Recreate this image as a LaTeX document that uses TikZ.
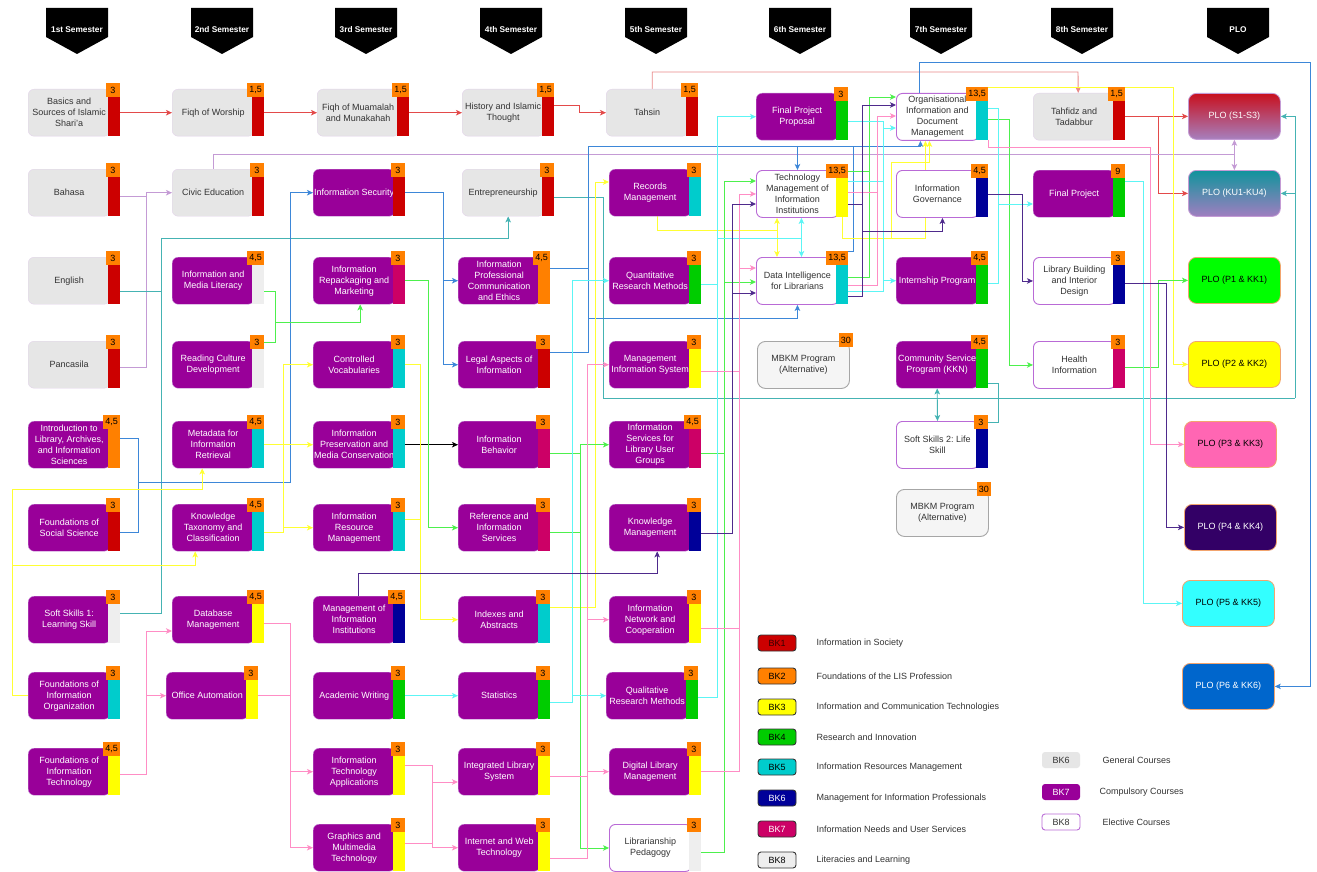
\documentclass[tikz,border=0pt]{standalone}
\usepackage{fontspec}
\setmainfont{Liberation Sans}
\usetikzlibrary{arrows.meta}
\frenchspacing
\pgfdeclarelayer{back}
\pgfdeclarelayer{bg}
\pgfsetlayers{back,bg,main}
\definecolor{genfill}{HTML}{E6E6E6}
\definecolor{genborder}{HTML}{E3D3EA}
\definecolor{compfill}{HTML}{990099}
\definecolor{compborder}{HTML}{C48AD6}
\definecolor{elecborder}{HTML}{B96AD6}
\definecolor{cRed}{HTML}{CC0000}
\definecolor{cOrange}{HTML}{FF8000}
\definecolor{cYellow}{HTML}{FFFF00}
\definecolor{cGreen}{HTML}{00CC00}
\definecolor{cCyan}{HTML}{00CCCC}
\definecolor{cNavy}{HTML}{000099}
\definecolor{cMag}{HTML}{CC0066}
\definecolor{cGray}{HTML}{EEEEEE}
\definecolor{credit}{HTML}{FF8000}
\definecolor{txt}{HTML}{333333}
\definecolor{bkOne}{HTML}{330000}
\definecolor{lRed}{HTML}{E34A4A}
\definecolor{lRedP}{HTML}{EA8A8A}
\definecolor{lLav}{HTML}{C49BD5}
\definecolor{lTeal}{HTML}{45B3B3}
\definecolor{lBlue}{HTML}{3D87D8}
\definecolor{lYel}{HTML}{FFFF33}
\definecolor{lGreen}{HTML}{4DF04D}
\definecolor{lCyan}{HTML}{5CF5F5}
\definecolor{lPink}{HTML}{FF8DC5}
\definecolor{lPurp}{HTML}{4E2A8C}
\definecolor{ploborder}{HTML}{F2A46E}
\definecolor{mbkmfill}{HTML}{F5F5F5}
\definecolor{mbkmborder}{HTML}{A6A6A6}
\definecolor{ploOneTop}{HTML}{C8101E}
\definecolor{ploOneBot}{HTML}{A680BE}
\definecolor{ploTwoTop}{HTML}{10949C}
\definecolor{ploTwoBot}{HTML}{A07EC0}
\definecolor{ploGreen}{HTML}{00FF00}
\definecolor{ploYellow}{HTML}{FFFF00}
\definecolor{ploPink}{HTML}{FF66B3}
\definecolor{ploPurple}{HTML}{330066}
\definecolor{ploCyan}{HTML}{33FFFF}
\definecolor{ploBlue}{HTML}{0066CC}
\tikzset{
  box/.style={rounded corners=6pt, minimum width=82pt, minimum height=47pt, inner xsep=1pt, inner ysep=1pt, align=center, font=\fontsize{9}{11}\selectfont},
  gen/.style={box, fill=genfill, draw=genborder, text=txt},
  comp/.style={box, fill=compfill, draw=compborder, text=white},
  elec/.style={box, fill=white, draw=elecborder, line width=0.9pt, text=txt},
  bar/.style={minimum width=12pt, minimum height=39pt, inner sep=0pt},
  cred/.style={fill=credit, minimum width=14pt, minimum height=14pt, inner xsep=2pt, inner ysep=1pt, font=\fontsize{9}{10}\selectfont, text=black},
  mbkm/.style={anchor=north west, rounded corners=8pt, fill=mbkmfill, draw=mbkmborder, line width=0.9pt, minimum width=92pt, minimum height=47pt, align=center, text=txt, font=\fontsize{9}{11}\selectfont},
  plo/.style={anchor=north west, rounded corners=8pt, minimum width=92pt, minimum height=46pt, draw=ploborder, line width=0.8pt, align=center, font=\fontsize{9}{11}\selectfont},
  hdr/.style={text=white, font=\bfseries\fontsize{8.3}{9}\selectfont},
  lgbox/.style={minimum width=38pt, minimum height=16pt, inner sep=0pt, rounded corners=3pt, draw=txt, line width=0.9pt, font=\fontsize{9}{10}\selectfont},
  lgtext/.style={anchor=west, text=txt, font=\fontsize{9}{10}\selectfont},
  conn/.style={line width=0.9pt},
  lR/.style={conn, draw=lRed},
  lRp/.style={conn, draw=lRedP},
  lav/.style={conn, draw=lLav},
  tl/.style={conn, draw=lTeal},
  bl/.style={conn, draw=lBlue},
  bk/.style={conn, draw=black},
  yl/.style={conn, draw=lYel},
  gr/.style={conn, draw=lGreen},
  cy/.style={conn, draw=lCyan},
  pk/.style={conn, draw=lPink},
  pu/.style={conn, draw=lPurp},
  >={Stealth[length=6pt,width=5.5pt,inset=1.5pt]}
}
\newcommand\mkcourse[7]{%
  \node[#4, anchor=north west] (#1) at (#2,#3) {#7};
  \node[bar, fill=#5, anchor=north west] (#1b) at ({#2+80},{#3+8}) {};
  \node[cred, anchor=north east] (#1c) at ({#2+92},{#3-6}) {#6};
}
\begin{document}
\begin{tikzpicture}[x=1pt,y=-1pt]
\useasboundingbox (0,0) rectangle (1317,872);
\begin{pgfonlayer}{back}
\fill[white] (0,0) rectangle (1317,872);
\end{pgfonlayer}

% headers
\foreach \cx/\t [count=\i] in {77/1st Semester,222/2nd Semester,366/3rd Semester,511/4th Semester,656/5th Semester,800/6th Semester,941/7th Semester,1082/8th Semester,1238/PLO}{
  \fill[black] (\cx-31,8) -- (\cx+31,8) -- (\cx+31,37) -- (\cx,54) -- (\cx-31,37) -- cycle;
  \node[hdr] (h\i) at (\cx,30) {\t};
}

% column 1
\mkcourse{A1}{28}{89}{gen}{cRed}{3}{Basics and\\Sources of Islamic\\Shari'a}
\mkcourse{A2}{28}{169}{gen}{cRed}{3}{Bahasa}
\mkcourse{A3}{28}{257}{gen}{cRed}{3}{English}
\mkcourse{A4}{28}{341}{gen}{cRed}{3}{Pancasila}
\mkcourse{A5}{28}{421}{comp}{cOrange}{4,5}{Introduction to\\Library, Archives,\\and Information\\Sciences}
\mkcourse{A6}{28}{504}{comp}{cRed}{3}{Foundations of\\Social Science}
\mkcourse{A7}{28}{596}{comp}{cGray}{3}{Soft Skills 1:\\Learning Skill}
\mkcourse{A8}{28}{672}{comp}{cCyan}{3}{Foundations of\\Information\\Organization}
\mkcourse{A9}{28}{748}{comp}{cYellow}{4,5}{Foundations of\\Information\\Technology}
% column 2
\mkcourse{B1}{172}{89}{gen}{cRed}{1,5}{Fiqh of Worship}
\mkcourse{B2}{172}{169}{gen}{cRed}{3}{Civic Education}
\mkcourse{B3}{172}{257}{comp}{cGray}{4,5}{Information and\\Media Literacy}
\mkcourse{B4}{172}{341}{comp}{cGray}{3}{Reading Culture\\Development}
\mkcourse{B5}{172}{421}{comp}{cCyan}{4,5}{Metadata for\\Information\\Retrieval}
\mkcourse{B6}{172}{504}{comp}{cCyan}{4,5}{Knowledge\\Taxonomy and\\Classification}
\mkcourse{B7}{172}{596}{comp}{cYellow}{4,5}{Database\\Management}
\mkcourse{B8}{166}{672}{comp}{cYellow}{3}{Office Automation}
% column 3
\mkcourse{C1}{317}{89}{gen}{cRed}{1,5}{Fiqh of Muamalah\\and Munakahah}
\mkcourse{C2}{313}{169}{comp}{cRed}{3}{Information Security}
\mkcourse{C3}{313}{257}{comp}{cMag}{3}{Information\\Repackaging and\\Marketing}
\mkcourse{C4}{313}{341}{comp}{cCyan}{3}{Controlled\\Vocabularies}
\mkcourse{C5}{313}{421}{comp}{cCyan}{3}{Information\\Preservation and\\Media Conservation}
\mkcourse{C6}{313}{504}{comp}{cCyan}{3}{Information\\Resource\\Management}
\mkcourse{C7}{313}{596}{comp}{cNavy}{4,5}{Management of\\Information\\Institutions}
\mkcourse{C8}{313}{672}{comp}{cGreen}{3}{Academic Writing}
\mkcourse{C9}{313}{748}{comp}{cYellow}{3}{Information\\Technology\\Applications}
\mkcourse{C10}{313}{824}{comp}{cYellow}{3}{Graphics and\\Multimedia\\Technology}
% column 4
\mkcourse{D1}{462}{89}{gen}{cRed}{1,5}{History and Islamic\\Thought}
\mkcourse{D2}{462}{169}{gen}{cRed}{3}{Entrepreneurship}
\mkcourse{D3}{458}{257}{comp}{cOrange}{4,5}{Information\\Professional\\Communication\\and Ethics}
\mkcourse{D4}{458}{341}{comp}{cRed}{3}{Legal Aspects of\\Information}
\mkcourse{D5}{458}{421}{comp}{cMag}{3}{Information\\Behavior}
\mkcourse{D6}{458}{504}{comp}{cMag}{3}{Reference and\\Information\\Services}
\mkcourse{D7}{458}{596}{comp}{cCyan}{3}{Indexes and\\Abstracts}
\mkcourse{D8}{458}{672}{comp}{cGreen}{3}{Statistics}
\mkcourse{D9}{458}{748}{comp}{cYellow}{3}{Integrated Library\\System}
\mkcourse{D10}{458}{824}{comp}{cYellow}{3}{Internet and Web\\Technology}
% column 5
\mkcourse{E1}{606}{89}{gen}{cRed}{1,5}{Tahsin}
\mkcourse{E2}{609}{169}{comp}{cCyan}{3}{Records\\Management}
\mkcourse{E3}{609}{257}{comp}{cGreen}{3}{Quantitative\\Research Methods}
\mkcourse{E4}{609}{341}{comp}{cYellow}{3}{Management\\Information System}
\mkcourse{E5}{609}{421}{comp}{cMag}{4,5}{Information\\Services for\\Library User\\Groups}
\mkcourse{E6}{609}{504}{comp}{cNavy}{3}{Knowledge\\Management}
\mkcourse{E7}{609}{596}{comp}{cYellow}{3}{Information\\Network and\\Cooperation}
\mkcourse{E8}{606}{672}{comp}{cGreen}{3}{Qualitative\\Research Methods}
\mkcourse{E9}{609}{748}{comp}{cYellow}{3}{Digital Library\\Management}
\mkcourse{E10}{609}{824}{elec}{cGray}{3}{Librarianship\\Pedagogy}
% column 6
\mkcourse{F1}{756}{93}{comp}{cGreen}{3}{Final Project\\Proposal}
\mkcourse{F2}{756}{170}{elec}{cYellow}{13,5}{Technology\\Management of\\Information\\Institutions}
\mkcourse{F3}{756}{257}{elec}{cCyan}{13,5}{Data Intelligence\\for Librarians}
\node[mbkm] (F4) at (757,341) {MBKM Program\\(Alternative)};
\node[cred, anchor=north east] (F4c) at (853,333) {30};
% column 7
\mkcourse{G1}{896}{93}{elec}{cCyan}{13,5}{Organisational\\Information and\\Document\\Management}
\mkcourse{G2}{896}{170}{elec}{cNavy}{4,5}{Information\\Governance}
\mkcourse{G3}{896}{257}{comp}{cGreen}{4,5}{Internship Program}
\mkcourse{G4}{896}{341}{comp}{cGreen}{4,5}{Community Service\\Program (KKN)}
\mkcourse{G5}{896}{421}{elec}{cNavy}{3}{Soft Skills 2: Life\\Skill}
\node[mbkm] (G6) at (896,489) {MBKM Program\\(Alternative)};
\node[cred, anchor=north east] (G6c) at (991,482) {30};
% column 8
\mkcourse{H1}{1033}{93}{gen}{cRed}{1,5}{Tahfidz and\\Tadabbur}
\mkcourse{H2}{1033}{170}{comp}{cGreen}{9}{Final Project}
\mkcourse{H3}{1033}{257}{elec}{cNavy}{3}{Library Building\\and Interior\\Design}
\mkcourse{H4}{1033}{341}{elec}{cMag}{3}{Health\\Information}
% PLO
\node[plo, draw=lLav, top color=ploOneTop, bottom color=ploOneBot, text=white] (P1) at (1188,93) {PLO (S1-S3)};
\node[plo, draw=lLav, top color=ploTwoTop, bottom color=ploTwoBot, text=white] (P2) at (1188,170) {PLO (KU1-KU4)};
\node[plo, fill=ploGreen] (P3) at (1188,257) {PLO (P1 \& KK1)};
\node[plo, fill=ploYellow] (P4) at (1188,341) {PLO (P2 \& KK2)};
\node[plo, fill=ploPink] (P5) at (1184,421) {PLO (P3 \& KK3)};
\node[plo, fill=ploPurple, text=white] (P6) at (1184,504) {PLO (P4 \& KK4)};
\node[plo, fill=ploCyan] (P7) at (1182,580) {PLO (P5 \& KK5)};
\node[plo, fill=ploBlue, text=white] (P8) at (1182,663) {PLO (P6 \& KK6)};

% legend
\foreach \i/\y/\fc/\tc/\txt in {1/643/cRed/bkOne/Information in Society,2/676/cOrange/black/Foundations of the LIS Profession,3/707/cYellow/black/Information and Communication Technologies,4/737/cGreen/black/Research and Innovation,5/767/cCyan/black/Information Resources Management,6/798/cNavy/white/Management for Information Professionals,7/829/cMag/white/Information Needs and User Services,8/860/cGray/black/Literacies and Learning}{
  \node[lgbox, fill=\fc, text=\tc] (lg\i) at (777,\y) {BK\i};
  \node[lgtext] (lt\i) at (813,\y) {\txt};
}
\node[lgbox, draw=none, fill=genfill, text=txt] (rl1) at (1061,760) {BK6};
\node[lgtext] (rt1) at (1099,760) {General Courses};
\node[lgbox, draw=none, fill=compfill, text=white] (rl2) at (1061,792) {BK7};
\node[lgtext] (rt2) at (1096,792) {Compulsory Courses};
\node[lgbox, draw=elecborder, fill=white, text=txt] (rl3) at (1061,822) {BK8};
\node[lgtext] (rt3) at (1099,822) {Elective Courses};

\begin{pgfonlayer}{bg}
% red
\draw[lR,->] (A1b.east |- A1.west) -- (B1.west);
\draw[lR,->] (B1b.east |- B1.west) -- (C1.west);
\draw[lR,->] (C1b.east |- C1.west) -- (D1.west);
\draw[lR,->] (D1b.east |- 0,105) -- (579,105) |- (E1.west);
\draw[lRp,->] ([xshift=5]E1.north) |- (1078,72) -- ([xshift=4]H1.north);
\draw[lR,->] (H1b.east |- P1.west) -- (P1.west);
\draw[lR,->] (1158,0 |- P1.west) |- (P2.west);
% lavender
\draw[lav,->] (A2b.east |- 0,196) -| (146,0 |- B2.west) -- (B2.west);
\draw[lav] (A4b.east |- 0,367) -| (146,196);
\draw[lav] (B2.north) |- (1234,154);
\draw[lav,<->] (P1.south) -- (P2.north);
% teal
\draw[tl,->] (A3b.east |- 0,291) -| (161,238) -| ([xshift=5]D2.south);
\draw[tl] (A7b.east |- 0,613) -| (161,291);
\draw[tl] (D2b.east |- 0,197) -| (603,398) -- (1295,398);
\draw[tl,->] (1295,398) |- (P2.east);
\draw[tl,->] (1295,0 |- P2.east) |- (P1.east);
\draw[tl,<->] (G4.south) -- (G5.north);
\draw[tl] (G4b.east |- 0,383) -| (998,0 |- G5c.east) -- (G5c.east);
% blue
\draw[bl,->] (A5b.east |- 0,438) -| (138,482) -| (290,0 |- C2.west) -- (C2.west);
\draw[bl] (A6b.east |- 0,532) -| (138,482);
\draw[bl,->] (C2b.east |- C2.west) -| (443,0 |- D3.west) -- (D3.west);
\draw[bl,->] (443,0 |- D3.west) |- (D4.west);
\draw[bl] (D3b.east |- 0,268) -| (588,146) -- (853,146);
\draw[bl] (D4b.east |- 0,352) -| (588,268);
\draw[bl,->] (F2.north |- 0,146) -- (F2.north);
\draw[bl,->] (588,318) -| (F3.south);
\draw[bl,->] (F3c.north east) -- (853,0 |- F3c.north east) -- (853,146) -| ([xshift=-17]G1.south);
\draw[bl,->] ([xshift=-18]G1.north) -- ++(0,-31) -| (1310,0 |- P8.east) -- (P8.east);
% black
\draw[bk,->] (C5b.east |- C5.west) -- (D5.west);
% yellow
\draw[yl,->] (A8.west) -| (12,489) -| ([xshift=-11]B5.south);
\draw[yl,->] (12,565) -| ([xshift=-18]B6.south);
\draw[yl,->] (B5b.east |- C5.west) -- (C5.west);
\draw[yl,->] (B6b.east |- 0,532) -| (283,0 |- C6.west) -- (C6.west);
\draw[yl,->] (283,0 |- C6.west) |- (C4.west);
\draw[yl,->] (C4b.east |- C4.west) -| (420,0 |- D7.west) -- (D7.west);
\draw[yl] (C6b.east |- 0,519) -- (420,519);
\draw[yl,->] (D7b.east |- 0,607) -| (595,182) -- (E2.west |- 0,182);
\draw[yl] ([xshift=7]E2.south) |- (777,230);
\draw[yl,<->] (F2.south -| 777,0) -- (F3.north -| 777,0);
\draw[yl,->] (F2b.south) -- ++(0,21) -| ([xshift=-12]G1.south);
\draw[yl,->] (891,238) -- (891,162) -| ([xshift=-8]G1.south);
\draw[yl,->] (G1c.north east) -| (1173,0 |- P4.west) -- (P4.west);
% green
\draw[gr,->] (B3b.east |- 0,291) -| (275,322) -| ([xshift=6]C3.south);
\draw[gr] (B4c.east) -| (275,291);
\draw[gr,->] (C3b.east |- C3.west) -| (428,0 |- D6.west) -- (D6.west);
\draw[gr,->] (D5b.east |- 0,453) -| (580,0 |- E5.west) -- (E5.west);
\draw[gr] (D6b.east |- 0,532) -| (580,453);
\draw[gr,->] (580,532) |- (E10.west);
\draw[gr] (E5b.east |- 0,453) -| (724,181);
\draw[gr,->] (724,181) -- (F2.west |- 0,181);
\draw[gr,->] (724,282) -- (F3.west |- 0,282);
\draw[gr] (E10b.east |- 0,852) -| (724,453);
\draw[gr,->] (F3b.east |- 0,277) -| (869,97) -- (G1.west |- 0,97);
\draw[gr] (F2c.east) -- (869,0 |- F2c.east);
\draw[gr,->] (G1b.east |- 0,119) -| (1009,0 |- H4.west) -- (H4.west);
\draw[gr,->] (H4b.east |- 0,367) -| (1158,0 |- P3.west) -- (P3.west);
% cyan
\draw[cy,->] (C8b.east |- C8.west) -- (D8.west);
\draw[cy,->] (D8b.east |- 0,702) -| (572,0 |- E3.west) -- (E3.west);
\draw[cy,->] (572,0 |- E8.west) -- (E8.west);
\draw[cy,->] (E3b.east |- 0,284) -| (717,0 |- F1.west) -- (F1.west);
\draw[cy] (E8b.east |- 0,697) -| (717,284);
\draw[cy] (717,238) -- (801,238);
\draw[cy,<->] ([xshift=4]F2.south) -- ([xshift=4]F3.north);
\draw[cy,->] (F1b.east |- 0,121) -| (883,128) -- (G1.west |- 0,128);
\draw[cy] (F2b.east |- 0,181) -- (883,181);
\draw[cy] (F3b.east |- 0,291) -| (883,128);
\draw[cy,->] (883,0 |- G3.west) -- (G3.west);
\draw[cy,->] (G1b.east |- 0,108) -| (998,204) -- (H2.west |- 0,204);
\draw[cy] (G3b.east |- 0,283) -| (998,204);
\draw[cy,->] (H2b.east |- 0,181) -| (1143,0 |- P7.west) -- (P7.west);
% pink
\draw[pk,->] (A9b.east |- 0,774) -| (146,631) -- (B7.west |- 0,631);
\draw[pk,->] (146,0 |- B8.west) -- (B8.west);
\draw[pk,->] (B7b.east |- 0,623) -| (290,0 |- C9.west) -- (C9.west);
\draw[pk,->] (290,0 |- C9.west) |- (C10.west);
\draw[pk] (B8b.east |- B8.west) -- (290,0 |- B8.west);
\draw[pk,->] (C9b.east |- 0,765) -| (432,782) -- (D9.west |- 0,782);
\draw[pk,->] (432,782) |- (D10.west);
\draw[pk] (C10b.east |- 0,843) -- (432,843);
\draw[pk,->] (D9b.east |- 0,776) -| (587,0 |- E4.west) -- (E4.west);
\draw[pk,->] (587,0 |- E7.west) -- (E7.west);
\draw[pk,->] (587,0 |- E9.west) -- (E9.west);
\draw[pk] (D10b.east |- 0,858) -| (587,776);
\draw[pk] (E4b.east |- 0,371) -- (739,371);
\draw[pk] (E7b.east |- 0,628) -- (739,628);
\draw[pk,->] (E9b.east |- E9.west) -| (739,0 |- F2.west) -- (F2.west);
\draw[pk,->] (739,268) -- (F3.west |- 0,268);
\draw[pk,->] (F2b.east |- 0,192) -| (877,116) -- (G1.west |- 0,116);
\draw[pk] (F3b.east |- 0,285) -| (877,192);
\draw[pk,->] (G1b.south east) |- (1150,147) |- (P5.west);
% purple
\draw[pu,->] ([xshift=4]C7.north) -- ++(0,-23) -| ([xshift=7]E6.south);
\draw[pu,->] (E6b.east |- 0,533) -| (732,204) -- (F2.west |- 0,204);
\draw[pu,->] (732,293) -- (F3.west |- 0,293);
\draw[pu,->] (F2b.east |- 0,204) -| (862,105) -- (G1.west |- 0,105);
\draw[pu] (F3b.east |- 0,296) -| (862,204);
\draw[pu,->] (862,231) -| ([xshift=5]G2.south);
\draw[pu,->] (G2b.east |- G2.west) -| (1022,0 |- H3.west) -- (H3.west);
\draw[pu,->] (H3b.east |- 0,283) -| (1166,0 |- P6.west) -- (P6.west);
\end{pgfonlayer}
\end{tikzpicture}
\end{document}
